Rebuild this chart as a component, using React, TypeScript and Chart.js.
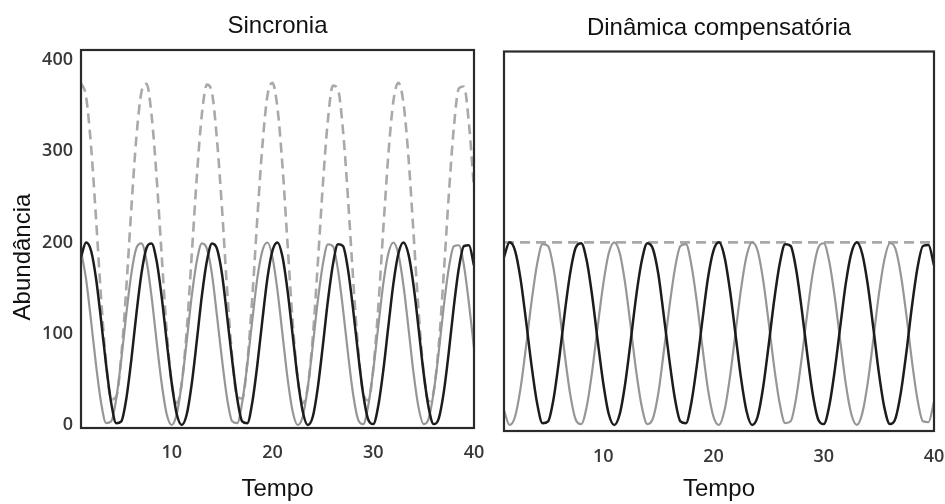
import React, { useEffect, useRef } from "react";
import { Chart, registerables } from "chart.js";

Chart.register(...registerables);

// Tempo (time) sampling points
const times = [
  1, 1.5, 2, 2.5, 3, 3.5, 4, 4.5, 5, 5.5,
  6, 6.5, 7, 7.5, 8, 8.5, 9, 9.5, 10, 10.5,
  11, 11.5, 12, 12.5, 13, 13.5, 14, 14.5, 15, 15.5,
  16, 16.5, 17, 17.5, 18, 18.5, 19, 19.5, 20, 20.5,
  21, 21.5, 22, 22.5, 23, 23.5, 24, 24.5, 25, 25.5,
  26, 26.5, 27, 27.5, 28, 28.5, 29, 29.5, 30, 30.5,
  31, 31.5, 32, 32.5, 33, 33.5, 34, 34.5, 35, 35.5,
  36, 36.5, 37, 37.5, 38, 38.5, 39, 39.5, 40,
];

// Sincronia: species A (black), species B (gray), total (dashed)
const syncBlack = [
  184, 200, 191, 160, 114, 65, 24, 2, 4, 29,
  72, 122, 166, 194, 199, 180, 141, 92, 46, 12,
  0, 12, 46, 93, 142, 180, 199, 193, 165, 119,
  71, 29, 4, 2, 25, 66, 115, 161, 191, 200,
  184, 147, 99, 51, 15, 0, 9, 41, 87, 136,
  176, 198, 196, 170, 127, 78, 34, 6, 1, 21,
  60, 108, 155, 188, 200, 187, 153, 106, 57, 19,
  1, 7, 36, 80, 130, 172, 196, 197, 175,
];
const syncGray = [
  191, 160, 114, 65, 24, 2, 4, 29, 72, 122,
  166, 194, 199, 180, 141, 92, 46, 12, 0, 12,
  46, 93, 142, 180, 199, 193, 165, 119, 71, 29,
  4, 2, 25, 66, 115, 161, 191, 200, 184, 147,
  99, 51, 15, 0, 9, 41, 87, 136, 176, 198,
  196, 170, 127, 78, 34, 6, 1, 21, 60, 108,
  155, 188, 200, 187, 153, 106, 57, 19, 1, 7,
  36, 80, 130, 172, 196, 197, 175, 133, 84,
];
const syncTotal = [
  375, 360, 305, 225, 138, 67, 28, 31, 76, 151,
  238, 316, 365, 374, 340, 272, 187, 104, 46, 24,
  46, 105, 188, 273, 341, 373, 364, 312, 236, 148,
  75, 31, 29, 68, 140, 227, 306, 361, 375, 347,
  283, 198, 114, 51, 24, 41, 96, 177, 263, 334,
  372, 368, 323, 248, 161, 84, 35, 27, 61, 129,
  215, 296, 355, 375, 353, 293, 210, 125, 58, 26,
  37, 87, 166, 252, 326, 369, 371, 330, 259,
];

// Dinâmica compensatória: species A (black), species B (gray), total (dashed)
const compBlack = [
  184, 200, 191, 160, 114, 65, 24, 2, 4, 29,
  72, 122, 166, 194, 199, 180, 141, 92, 46, 12,
  0, 12, 46, 93, 142, 180, 199, 193, 165, 119,
  71, 29, 4, 2, 25, 66, 115, 161, 191, 200,
  184, 147, 99, 51, 15, 0, 9, 41, 87, 136,
  176, 198, 196, 170, 127, 78, 34, 6, 1, 21,
  60, 108, 155, 188, 200, 187, 153, 106, 57, 19,
  1, 7, 36, 80, 130, 172, 196, 197, 175,
];
const compGray = [
  16, 0, 9, 40, 86, 135, 176, 198, 196, 171,
  128, 78, 34, 6, 1, 20, 59, 108, 154, 188,
  200, 188, 154, 107, 58, 20, 1, 7, 35, 81,
  129, 171, 196, 198, 175, 134, 85, 39, 9, 0,
  16, 53, 101, 149, 185, 200, 191, 159, 113, 64,
  24, 2, 4, 30, 73, 122, 166, 194, 199, 179,
  140, 92, 45, 12, 0, 13, 47, 94, 143, 181,
  199, 193, 164, 120, 70, 28, 4, 3, 25,
];
const compTotalTimes = [1, 40];
const compTotal = [200, 200];

const xTicks = [10, 20, 30, 40];
const yTicks = [0, 100, 200, 300, 400];

const titleFont = "'Liberation Sans', Arial, sans-serif";
const tickFont = "'Open Sans', 'Noto Sans', sans-serif";

const toPoints = (xs: number[], ys: number[]) => xs.map((x, i) => ({ x, y: ys[i] }));

const boxPlugin = {
  id: "plotBox",
  afterDatasetsDraw(chart: any) {
    const { ctx, chartArea } = chart;
    ctx.save();
    ctx.strokeStyle = "#2a2a2a";
    ctx.lineWidth = 2.2;
    ctx.strokeRect(chartArea.left, chartArea.top, chartArea.right - chartArea.left, chartArea.bottom - chartArea.top);
    ctx.restore();
  },
};

const yLabelPlugin = {
  id: "yLabel",
  afterDraw(chart: any) {
    const { ctx } = chart;
    ctx.save();
    ctx.translate(23, 257);
    ctx.rotate(-Math.PI / 2);
    ctx.fillStyle = "#111";
    ctx.font = `24px ${titleFont}`;
    ctx.textAlign = "center";
    ctx.textBaseline = "middle";
    ctx.fillText("Abundância", 0, 0);
    ctx.restore();
  },
};

function makeDatasets(black: any[], gray: any[], total: any[]) {
  return [
    {
      data: black,
      borderColor: "#1c1c1c",
      borderWidth: 2.5,
      pointRadius: 0,
      cubicInterpolationMode: "monotone",
      order: 0,
    },
    {
      data: gray,
      borderColor: "#969696",
      borderWidth: 2.2,
      pointRadius: 0,
      cubicInterpolationMode: "monotone",
      order: 1,
    },
    {
      data: total,
      borderColor: "#a9a9a9",
      borderWidth: 2.6,
      borderDash: [10, 6],
      pointRadius: 0,
      cubicInterpolationMode: "monotone",
      order: 2,
    },
  ];
}

function xScale(bottomHeight: number, tickPad: number) {
  return {
    type: "linear",
    min: 1,
    max: 40,
    afterBuildTicks: (s: any) => {
      s.ticks = xTicks.map((v) => ({ value: v }));
    },
    afterFit: (s: any) => {
      s.height = bottomHeight;
      s.paddingLeft = 0;
      s.paddingRight = 0;
    },
    grid: { display: false, drawTicks: false },
    border: { display: false },
    ticks: {
      padding: tickPad,
      color: "#383838",
      font: { family: tickFont, size: 18, weight: "600" },
      maxRotation: 0,
    },
    title: {
      display: true,
      text: "Tempo",
      color: "#111",
      font: { family: titleFont, size: 24 },
      padding: { top: 0, bottom: 0 },
    },
  };
}

function LeftChart() {
  const ref = useRef<HTMLCanvasElement>(null);
  useEffect(() => {
    const chart = new Chart(ref.current!, {
      type: "line",
      data: {
        datasets: makeDatasets(
          toPoints(times, syncBlack),
          toPoints(times, syncGray),
          toPoints(times, syncTotal)
        ) as any,
      },
      options: {
        responsive: false,
        animation: false,
        events: [],
        layout: { padding: { left: 0, right: 26, top: 0, bottom: 0 } },
        plugins: {
          legend: { display: false },
          tooltip: { enabled: false },
          title: {
            display: true,
            text: "Sincronia",
            color: "#111",
            fullSize: false,
            font: { family: titleFont, size: 24, weight: "normal" },
            padding: { top: 12, bottom: 9.2 },
          },
        },
        scales: {
          x: xScale(76, 14) as any,
          y: {
            type: "linear",
            min: -3.3,
            max: 411,
            afterBuildTicks: (s: any) => {
              s.ticks = yTicks.map((v) => ({ value: v }));
            },
            afterFit: (s: any) => {
              s.width = 81;
            },
            grid: { display: false, drawTicks: false },
            border: { display: false },
            ticks: {
              padding: 8,
              color: "#383838",
              font: { family: tickFont, size: 18, weight: "600" },
            },
          },
        },
      },
      plugins: [boxPlugin, yLabelPlugin],
    });
    return () => chart.destroy();
  }, []);
  return (
    <canvas
      ref={ref}
      width={500}
      height={504}
      style={{ position: "absolute", left: 0, top: 0, width: 500, height: 504 }}
    />
  );
}

function RightChart() {
  const ref = useRef<HTMLCanvasElement>(null);
  useEffect(() => {
    const chart = new Chart(ref.current!, {
      type: "line",
      data: {
        datasets: makeDatasets(
          toPoints(times, compBlack),
          toPoints(times, compGray),
          toPoints(compTotalTimes, compTotal)
        ) as any,
      },
      options: {
        responsive: false,
        animation: false,
        events: [],
        layout: { padding: { left: 24, right: 11, top: 0, bottom: 0 } },
        plugins: {
          legend: { display: false },
          tooltip: { enabled: false },
          title: {
            display: true,
            text: "Dinâmica compensatória",
            color: "#111",
            fullSize: false,
            font: { family: titleFont, size: 24, weight: "normal" },
            padding: { top: 13.6, bottom: 9.1 },
          },
        },
        scales: {
          x: xScale(73, 15) as any,
          y: {
            type: "linear",
            display: false,
            min: -6.6,
            max: 409,
          },
        },
      },
      plugins: [boxPlugin],
    });
    return () => chart.destroy();
  }, []);
  return (
    <canvas
      ref={ref}
      width={465}
      height={504}
      style={{ position: "absolute", left: 480, top: 0, width: 465, height: 504 }}
    />
  );
}

export default function App() {
  return (
    <div
      style={{
        position: "absolute",
        left: 0,
        top: 0,
        width: 945,
        height: 504,
        background: "#ffffff",
        overflow: "hidden",
      }}
    >
      <LeftChart />
      <RightChart />
    </div>
  );
}
